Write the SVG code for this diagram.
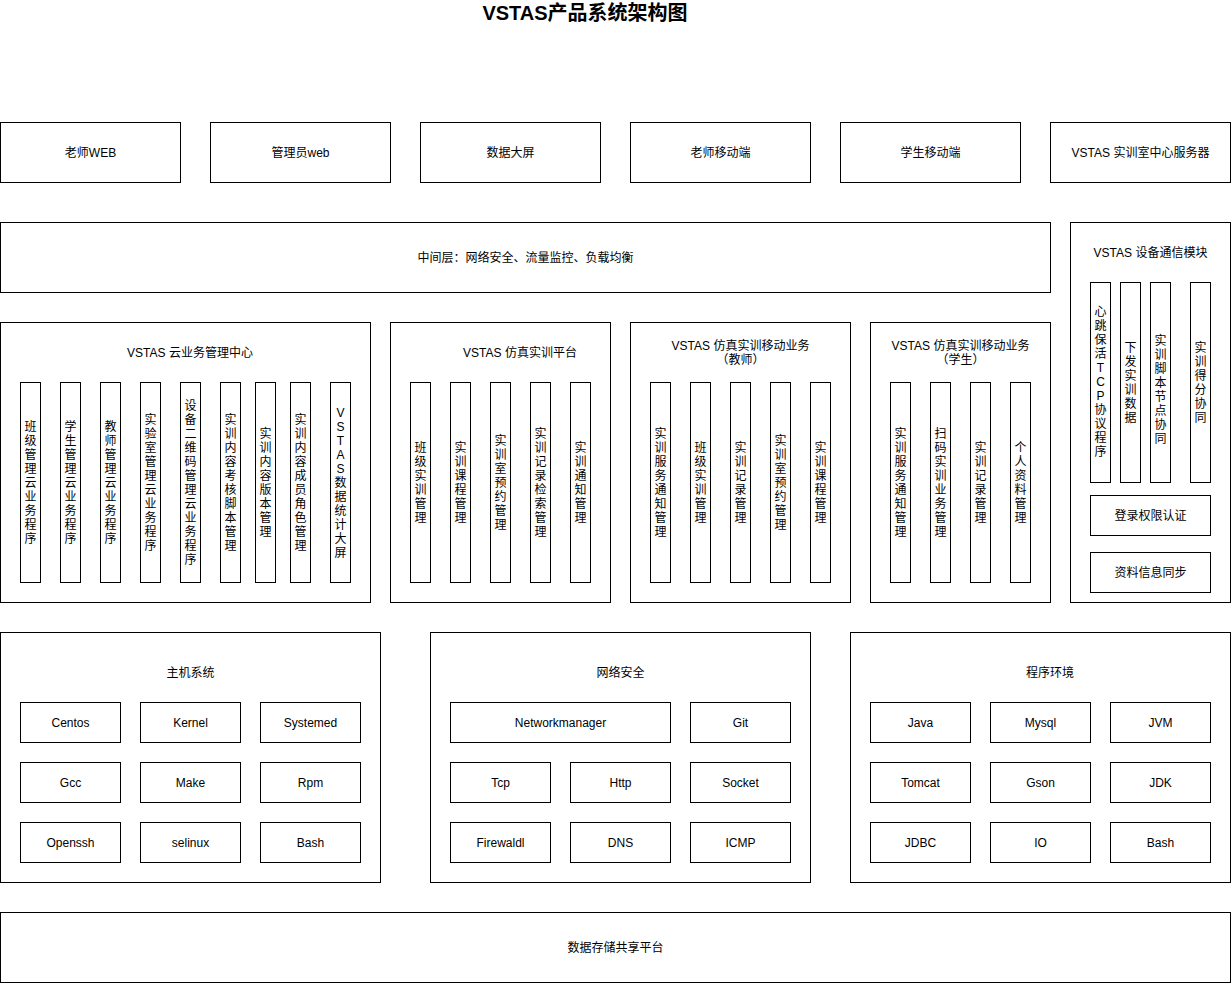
<svg xmlns="http://www.w3.org/2000/svg" width="1231" height="983" viewBox="0 0 1231 983">
<style>
rect{fill:#ffffff;stroke:#000000;stroke-width:1}
text{font-family:"Liberation Sans","Noto Sans CJK SC",sans-serif;font-size:12px;fill:#000000;text-anchor:middle}
.title{font-size:20px;font-weight:bold}
</style>
<rect x="0" y="0" width="1231" height="983" style="stroke:none"/>
<text class="title" x="585" y="19.5">VSTAS产品系统架构图</text>

<g id="top-row">
<g id="teacher-web"><rect x="0.5" y="122.5" width="180" height="60"/><text x="90.5" y="156.5">老师WEB</text></g>
<g id="admin-web"><rect x="210.5" y="122.5" width="180" height="60"/><text x="300.5" y="156.5">管理员web</text></g>
<g id="data-screen"><rect x="420.5" y="122.5" width="180" height="60"/><text x="510.5" y="156.5">数据大屏</text></g>
<g id="teacher-mobile"><rect x="630.5" y="122.5" width="180" height="60"/><text x="720.5" y="156.5">老师移动端</text></g>
<g id="student-mobile"><rect x="840.5" y="122.5" width="180" height="60"/><text x="930.5" y="156.5">学生移动端</text></g>
<g id="center-server"><rect x="1050.5" y="122.5" width="180" height="60"/><text x="1140.5" y="156.5">VSTAS 实训室中心服务器</text></g>
</g>

<g id="middle-layer"><rect x="0.5" y="222.5" width="1050" height="70"/><text x="525.5" y="261.5">中间层：网络安全、流量监控、负载均衡</text></g>

<g id="cloud-center">
<rect x="0.5" y="322.5" width="370" height="280"/>
<text x="190" y="356.5">VSTAS 云业务管理中心</text>
<g id="c1"><rect x="20.5" y="382.5" width="20" height="200"/><text x="30.5" y="430.5"><tspan x="30.5">班</tspan><tspan x="30.5" dy="14">级</tspan><tspan x="30.5" dy="14">管</tspan><tspan x="30.5" dy="14">理</tspan><tspan x="30.5" dy="14">云</tspan><tspan x="30.5" dy="14">业</tspan><tspan x="30.5" dy="14">务</tspan><tspan x="30.5" dy="14">程</tspan><tspan x="30.5" dy="14">序</tspan></text></g>
<g id="c2"><rect x="60.5" y="382.5" width="20" height="200"/><text x="70.5" y="430.5"><tspan x="70.5">学</tspan><tspan x="70.5" dy="14">生</tspan><tspan x="70.5" dy="14">管</tspan><tspan x="70.5" dy="14">理</tspan><tspan x="70.5" dy="14">云</tspan><tspan x="70.5" dy="14">业</tspan><tspan x="70.5" dy="14">务</tspan><tspan x="70.5" dy="14">程</tspan><tspan x="70.5" dy="14">序</tspan></text></g>
<g id="c3"><rect x="100.5" y="382.5" width="20" height="200"/><text x="110.5" y="430.5"><tspan x="110.5">教</tspan><tspan x="110.5" dy="14">师</tspan><tspan x="110.5" dy="14">管</tspan><tspan x="110.5" dy="14">理</tspan><tspan x="110.5" dy="14">云</tspan><tspan x="110.5" dy="14">业</tspan><tspan x="110.5" dy="14">务</tspan><tspan x="110.5" dy="14">程</tspan><tspan x="110.5" dy="14">序</tspan></text></g>
<g id="c4"><rect x="140.5" y="382.5" width="20" height="200"/><text x="150.5" y="423.5"><tspan x="150.5">实</tspan><tspan x="150.5" dy="14">验</tspan><tspan x="150.5" dy="14">室</tspan><tspan x="150.5" dy="14">管</tspan><tspan x="150.5" dy="14">理</tspan><tspan x="150.5" dy="14">云</tspan><tspan x="150.5" dy="14">业</tspan><tspan x="150.5" dy="14">务</tspan><tspan x="150.5" dy="14">程</tspan><tspan x="150.5" dy="14">序</tspan></text></g>
<g id="c5"><rect x="180.5" y="382.5" width="20" height="200"/><text x="190.5" y="409.5"><tspan x="190.5">设</tspan><tspan x="190.5" dy="14">备</tspan><tspan x="190.5" dy="14">二</tspan><tspan x="190.5" dy="14">维</tspan><tspan x="190.5" dy="14">码</tspan><tspan x="190.5" dy="14">管</tspan><tspan x="190.5" dy="14">理</tspan><tspan x="190.5" dy="14">云</tspan><tspan x="190.5" dy="14">业</tspan><tspan x="190.5" dy="14">务</tspan><tspan x="190.5" dy="14">程</tspan><tspan x="190.5" dy="14">序</tspan></text></g>
<g id="c6"><rect x="220.5" y="382.5" width="20" height="200"/><text x="230.5" y="423.5"><tspan x="230.5">实</tspan><tspan x="230.5" dy="14">训</tspan><tspan x="230.5" dy="14">内</tspan><tspan x="230.5" dy="14">容</tspan><tspan x="230.5" dy="14">考</tspan><tspan x="230.5" dy="14">核</tspan><tspan x="230.5" dy="14">脚</tspan><tspan x="230.5" dy="14">本</tspan><tspan x="230.5" dy="14">管</tspan><tspan x="230.5" dy="14">理</tspan></text></g>
<g id="c7"><rect x="255.5" y="382.5" width="20" height="200"/><text x="265.5" y="437.5"><tspan x="265.5">实</tspan><tspan x="265.5" dy="14">训</tspan><tspan x="265.5" dy="14">内</tspan><tspan x="265.5" dy="14">容</tspan><tspan x="265.5" dy="14">版</tspan><tspan x="265.5" dy="14">本</tspan><tspan x="265.5" dy="14">管</tspan><tspan x="265.5" dy="14">理</tspan></text></g>
<g id="c8"><rect x="290.5" y="382.5" width="20" height="200"/><text x="300.5" y="423.5"><tspan x="300.5">实</tspan><tspan x="300.5" dy="14">训</tspan><tspan x="300.5" dy="14">内</tspan><tspan x="300.5" dy="14">容</tspan><tspan x="300.5" dy="14">成</tspan><tspan x="300.5" dy="14">员</tspan><tspan x="300.5" dy="14">角</tspan><tspan x="300.5" dy="14">色</tspan><tspan x="300.5" dy="14">管</tspan><tspan x="300.5" dy="14">理</tspan></text></g>
<g id="c9"><rect x="330.5" y="382.5" width="20" height="200"/><text x="340.5" y="416.5"><tspan x="340.5">V</tspan><tspan x="340.5" dy="14">S</tspan><tspan x="340.5" dy="14">T</tspan><tspan x="340.5" dy="14">A</tspan><tspan x="340.5" dy="14">S</tspan><tspan x="340.5" dy="14">数</tspan><tspan x="340.5" dy="14">据</tspan><tspan x="340.5" dy="14">统</tspan><tspan x="340.5" dy="14">计</tspan><tspan x="340.5" dy="14">大</tspan><tspan x="340.5" dy="14">屏</tspan></text></g>
</g>

<g id="sim-platform">
<rect x="390.5" y="322.5" width="220" height="280"/>
<text x="520" y="356.5">VSTAS 仿真实训平台</text>
<g id="s1"><rect x="410.5" y="382.5" width="20" height="200"/><text x="420.5" y="451.5"><tspan x="420.5">班</tspan><tspan x="420.5" dy="14">级</tspan><tspan x="420.5" dy="14">实</tspan><tspan x="420.5" dy="14">训</tspan><tspan x="420.5" dy="14">管</tspan><tspan x="420.5" dy="14">理</tspan></text></g>
<g id="s2"><rect x="450.5" y="382.5" width="20" height="200"/><text x="460.5" y="451.5"><tspan x="460.5">实</tspan><tspan x="460.5" dy="14">训</tspan><tspan x="460.5" dy="14">课</tspan><tspan x="460.5" dy="14">程</tspan><tspan x="460.5" dy="14">管</tspan><tspan x="460.5" dy="14">理</tspan></text></g>
<g id="s3"><rect x="490.5" y="382.5" width="20" height="200"/><text x="500.5" y="444.5"><tspan x="500.5">实</tspan><tspan x="500.5" dy="14">训</tspan><tspan x="500.5" dy="14">室</tspan><tspan x="500.5" dy="14">预</tspan><tspan x="500.5" dy="14">约</tspan><tspan x="500.5" dy="14">管</tspan><tspan x="500.5" dy="14">理</tspan></text></g>
<g id="s4"><rect x="530.5" y="382.5" width="20" height="200"/><text x="540.5" y="437.5"><tspan x="540.5">实</tspan><tspan x="540.5" dy="14">训</tspan><tspan x="540.5" dy="14">记</tspan><tspan x="540.5" dy="14">录</tspan><tspan x="540.5" dy="14">检</tspan><tspan x="540.5" dy="14">索</tspan><tspan x="540.5" dy="14">管</tspan><tspan x="540.5" dy="14">理</tspan></text></g>
<g id="s5"><rect x="570.5" y="382.5" width="20" height="200"/><text x="580.5" y="451.5"><tspan x="580.5">实</tspan><tspan x="580.5" dy="14">训</tspan><tspan x="580.5" dy="14">通</tspan><tspan x="580.5" dy="14">知</tspan><tspan x="580.5" dy="14">管</tspan><tspan x="580.5" dy="14">理</tspan></text></g>
</g>

<g id="mobile-teacher">
<rect x="630.5" y="322.5" width="220" height="280"/>
<text x="740.5" y="349.5">VSTAS 仿真实训移动业务</text>
<text x="740.5" y="364">（教师）</text>
<g id="t1"><rect x="650.5" y="382.5" width="20" height="200"/><text x="660.5" y="437.5"><tspan x="660.5">实</tspan><tspan x="660.5" dy="14">训</tspan><tspan x="660.5" dy="14">服</tspan><tspan x="660.5" dy="14">务</tspan><tspan x="660.5" dy="14">通</tspan><tspan x="660.5" dy="14">知</tspan><tspan x="660.5" dy="14">管</tspan><tspan x="660.5" dy="14">理</tspan></text></g>
<g id="t2"><rect x="690.5" y="382.5" width="20" height="200"/><text x="700.5" y="451.5"><tspan x="700.5">班</tspan><tspan x="700.5" dy="14">级</tspan><tspan x="700.5" dy="14">实</tspan><tspan x="700.5" dy="14">训</tspan><tspan x="700.5" dy="14">管</tspan><tspan x="700.5" dy="14">理</tspan></text></g>
<g id="t3"><rect x="730.5" y="382.5" width="20" height="200"/><text x="740.5" y="451.5"><tspan x="740.5">实</tspan><tspan x="740.5" dy="14">训</tspan><tspan x="740.5" dy="14">记</tspan><tspan x="740.5" dy="14">录</tspan><tspan x="740.5" dy="14">管</tspan><tspan x="740.5" dy="14">理</tspan></text></g>
<g id="t4"><rect x="770.5" y="382.5" width="20" height="200"/><text x="780.5" y="444.5"><tspan x="780.5">实</tspan><tspan x="780.5" dy="14">训</tspan><tspan x="780.5" dy="14">室</tspan><tspan x="780.5" dy="14">预</tspan><tspan x="780.5" dy="14">约</tspan><tspan x="780.5" dy="14">管</tspan><tspan x="780.5" dy="14">理</tspan></text></g>
<g id="t5"><rect x="810.5" y="382.5" width="20" height="200"/><text x="820.5" y="451.5"><tspan x="820.5">实</tspan><tspan x="820.5" dy="14">训</tspan><tspan x="820.5" dy="14">课</tspan><tspan x="820.5" dy="14">程</tspan><tspan x="820.5" dy="14">管</tspan><tspan x="820.5" dy="14">理</tspan></text></g>
</g>

<g id="mobile-student">
<rect x="870.5" y="322.5" width="180" height="280"/>
<text x="960.5" y="349.5">VSTAS 仿真实训移动业务</text>
<text x="960.5" y="364">（学生）</text>
<g id="u1"><rect x="890.5" y="382.5" width="20" height="200"/><text x="900.5" y="437.5"><tspan x="900.5">实</tspan><tspan x="900.5" dy="14">训</tspan><tspan x="900.5" dy="14">服</tspan><tspan x="900.5" dy="14">务</tspan><tspan x="900.5" dy="14">通</tspan><tspan x="900.5" dy="14">知</tspan><tspan x="900.5" dy="14">管</tspan><tspan x="900.5" dy="14">理</tspan></text></g>
<g id="u2"><rect x="930.5" y="382.5" width="20" height="200"/><text x="940.5" y="437.5"><tspan x="940.5">扫</tspan><tspan x="940.5" dy="14">码</tspan><tspan x="940.5" dy="14">实</tspan><tspan x="940.5" dy="14">训</tspan><tspan x="940.5" dy="14">业</tspan><tspan x="940.5" dy="14">务</tspan><tspan x="940.5" dy="14">管</tspan><tspan x="940.5" dy="14">理</tspan></text></g>
<g id="u3"><rect x="970.5" y="382.5" width="20" height="200"/><text x="980.5" y="451.5"><tspan x="980.5">实</tspan><tspan x="980.5" dy="14">训</tspan><tspan x="980.5" dy="14">记</tspan><tspan x="980.5" dy="14">录</tspan><tspan x="980.5" dy="14">管</tspan><tspan x="980.5" dy="14">理</tspan></text></g>
<g id="u4"><rect x="1010.5" y="382.5" width="20" height="200"/><text x="1020.5" y="451.5"><tspan x="1020.5">个</tspan><tspan x="1020.5" dy="14">人</tspan><tspan x="1020.5" dy="14">资</tspan><tspan x="1020.5" dy="14">料</tspan><tspan x="1020.5" dy="14">管</tspan><tspan x="1020.5" dy="14">理</tspan></text></g>
</g>

<g id="device-module">
<rect x="1070.5" y="222.5" width="160" height="380"/>
<text x="1150.5" y="256.5">VSTAS 设备通信模块</text>
<g id="d1"><rect x="1090.5" y="282.5" width="20" height="200"/><text x="1100.5" y="315.5"><tspan x="1100.5">心</tspan><tspan x="1100.5" dy="14">跳</tspan><tspan x="1100.5" dy="14">保</tspan><tspan x="1100.5" dy="14">活</tspan><tspan x="1100.5" dy="14">T</tspan><tspan x="1100.5" dy="14">C</tspan><tspan x="1100.5" dy="14">P</tspan><tspan x="1100.5" dy="14">协</tspan><tspan x="1100.5" dy="14">议</tspan><tspan x="1100.5" dy="14">程</tspan><tspan x="1100.5" dy="14">序</tspan></text></g>
<g id="d2"><rect x="1120.5" y="282.5" width="20" height="200"/><text x="1130.5" y="351.5"><tspan x="1130.5">下</tspan><tspan x="1130.5" dy="14">发</tspan><tspan x="1130.5" dy="14">实</tspan><tspan x="1130.5" dy="14">训</tspan><tspan x="1130.5" dy="14">数</tspan><tspan x="1130.5" dy="14">据</tspan></text></g>
<g id="d3"><rect x="1150.5" y="282.5" width="20" height="200"/><text x="1160.5" y="344.5"><tspan x="1160.5">实</tspan><tspan x="1160.5" dy="14">训</tspan><tspan x="1160.5" dy="14">脚</tspan><tspan x="1160.5" dy="14">本</tspan><tspan x="1160.5" dy="14">节</tspan><tspan x="1160.5" dy="14">点</tspan><tspan x="1160.5" dy="14">协</tspan><tspan x="1160.5" dy="14">同</tspan></text></g>
<g id="d4"><rect x="1190.5" y="282.5" width="20" height="200"/><text x="1200.5" y="351.5"><tspan x="1200.5">实</tspan><tspan x="1200.5" dy="14">训</tspan><tspan x="1200.5" dy="14">得</tspan><tspan x="1200.5" dy="14">分</tspan><tspan x="1200.5" dy="14">协</tspan><tspan x="1200.5" dy="14">同</tspan></text></g>
<g id="login"><rect x="1090.5" y="495.5" width="120" height="40"/><text x="1150.5" y="519.5">登录权限认证</text></g>
<g id="sync"><rect x="1090.5" y="552.5" width="120" height="40"/><text x="1150.5" y="576.5">资料信息同步</text></g>
</g>

<g id="host-system">
<rect x="0.5" y="632.5" width="380" height="250"/>
<text x="190.5" y="676.5">主机系统</text>
<g id="h1"><rect x="20.5" y="702.5" width="100" height="40"/><text x="70.5" y="726.5">Centos</text></g>
<g id="h2"><rect x="140.5" y="702.5" width="100" height="40"/><text x="190.5" y="726.5">Kernel</text></g>
<g id="h3"><rect x="260.5" y="702.5" width="100" height="40"/><text x="310.5" y="726.5">Systemed</text></g>
<g id="h4"><rect x="20.5" y="762.5" width="100" height="40"/><text x="70.5" y="786.5">Gcc</text></g>
<g id="h5"><rect x="140.5" y="762.5" width="100" height="40"/><text x="190.5" y="786.5">Make</text></g>
<g id="h6"><rect x="260.5" y="762.5" width="100" height="40"/><text x="310.5" y="786.5">Rpm</text></g>
<g id="h7"><rect x="20.5" y="822.5" width="100" height="40"/><text x="70.5" y="846.5">Openssh</text></g>
<g id="h8"><rect x="140.5" y="822.5" width="100" height="40"/><text x="190.5" y="846.5">selinux</text></g>
<g id="h9"><rect x="260.5" y="822.5" width="100" height="40"/><text x="310.5" y="846.5">Bash</text></g>
</g>

<g id="network-security">
<rect x="430.5" y="632.5" width="380" height="250"/>
<text x="620.5" y="676.5">网络安全</text>
<g id="n1"><rect x="450.5" y="702.5" width="220" height="40"/><text x="560.5" y="726.5">Networkmanager</text></g>
<g id="n2"><rect x="690.5" y="702.5" width="100" height="40"/><text x="740.5" y="726.5">Git</text></g>
<g id="n3"><rect x="450.5" y="762.5" width="100" height="40"/><text x="500.5" y="786.5">Tcp</text></g>
<g id="n4"><rect x="570.5" y="762.5" width="100" height="40"/><text x="620.5" y="786.5">Http</text></g>
<g id="n5"><rect x="690.5" y="762.5" width="100" height="40"/><text x="740.5" y="786.5">Socket</text></g>
<g id="n6"><rect x="450.5" y="822.5" width="100" height="40"/><text x="500.5" y="846.5">Firewaldl</text></g>
<g id="n7"><rect x="570.5" y="822.5" width="100" height="40"/><text x="620.5" y="846.5">DNS</text></g>
<g id="n8"><rect x="690.5" y="822.5" width="100" height="40"/><text x="740.5" y="846.5">ICMP</text></g>
</g>

<g id="program-env">
<rect x="850.5" y="632.5" width="380" height="250"/>
<text x="1050" y="676.5">程序环境</text>
<g id="p1"><rect x="870.5" y="702.5" width="100" height="40"/><text x="920.5" y="726.5">Java</text></g>
<g id="p2"><rect x="990.5" y="702.5" width="100" height="40"/><text x="1040.5" y="726.5">Mysql</text></g>
<g id="p3"><rect x="1110.5" y="702.5" width="100" height="40"/><text x="1160.5" y="726.5">JVM</text></g>
<g id="p4"><rect x="870.5" y="762.5" width="100" height="40"/><text x="920.5" y="786.5">Tomcat</text></g>
<g id="p5"><rect x="990.5" y="762.5" width="100" height="40"/><text x="1040.5" y="786.5">Gson</text></g>
<g id="p6"><rect x="1110.5" y="762.5" width="100" height="40"/><text x="1160.5" y="786.5">JDK</text></g>
<g id="p7"><rect x="870.5" y="822.5" width="100" height="40"/><text x="920.5" y="846.5">JDBC</text></g>
<g id="p8"><rect x="990.5" y="822.5" width="100" height="40"/><text x="1040.5" y="846.5">IO</text></g>
<g id="p9"><rect x="1110.5" y="822.5" width="100" height="40"/><text x="1160.5" y="846.5">Bash</text></g>
</g>

<g id="data-storage"><rect x="0.5" y="912.5" width="1230" height="70"/><text x="615.5" y="951.5">数据存储共享平台</text></g>

<g id="connectors"></g>
</svg>
